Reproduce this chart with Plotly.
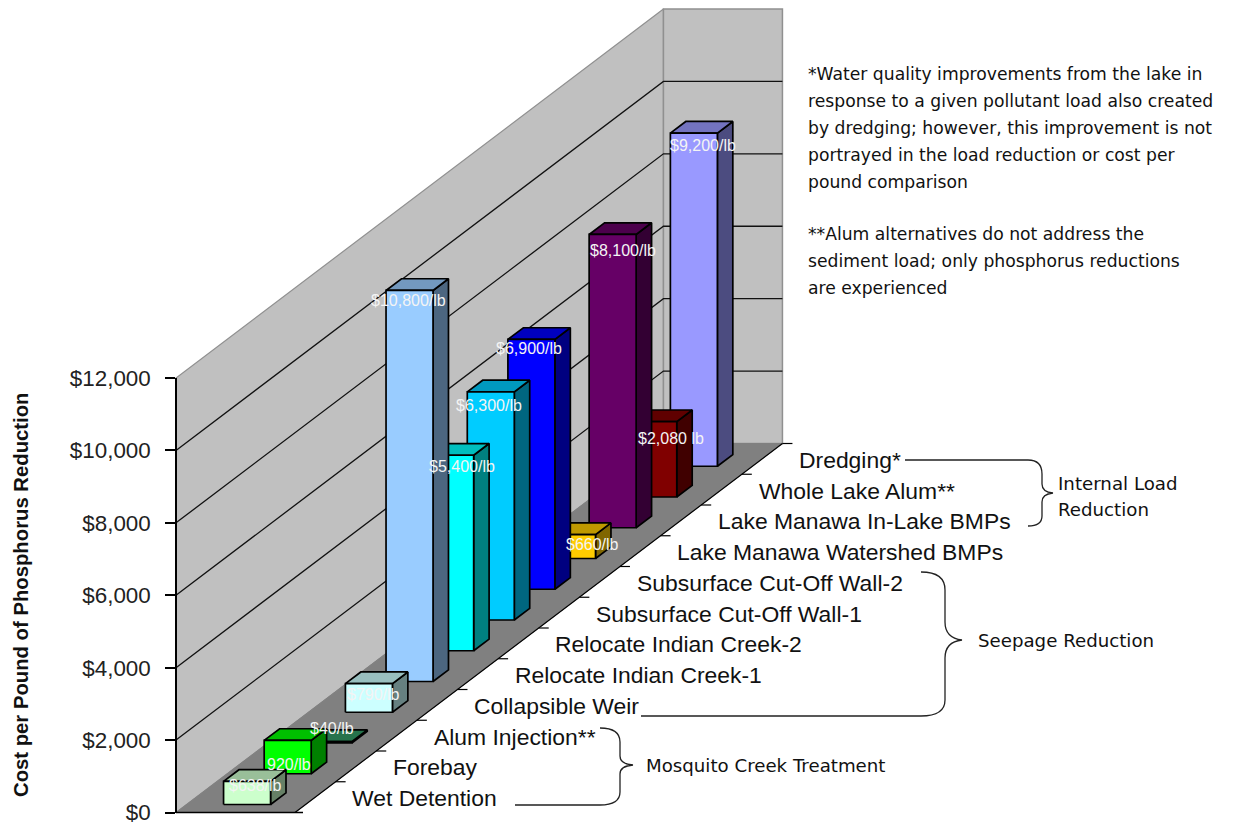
import plotly.graph_objects as go

# Cost-effectiveness of phosphorus reduction alternatives, Excel-style 3-D columns
categories = [
    "Wet Detention", "Forebay", "Alum Injection**", "Collapsible Weir",
    "Relocate Indian Creek-1", "Relocate Indian Creek-2",
    "Subsurface Cut-Off Wall-1", "Subsurface Cut-Off Wall-2",
    "Lake Manawa Watershed BMPs", "Lake Manawa In-Lake BMPs",
    "Whole Lake Alum**", "Dredging*",
]
cost_per_lb = [638, 920, 40, 790, 10800, 5400, 6300, 6900, 660, 8100, 2080, 9200]
value_labels = [
    "$638/lb", "920/lb", "$40/lb", "$790/lb", "$10,800/lb", "$5,400/lb",
    "$6,300/lb", "$6,900/lb", "$660/lb", "$8,100/lb", "$2,080 lb", "$9,200/lb",
]
bar_colors = [
    "#CCFFCC", "#00FF00", "#339966", "#CCFFFF", "#99CCFF", "#00FFFF",
    "#00CCFF", "#0000FF", "#FFCC00", "#660066", "#800000", "#9999FF",
]
value_ticks = [0, 2000, 4000, 6000, 8000, 10000, 12000]
value_tick_labels = ["$0", "$2,000", "$4,000", "$6,000", "$8,000", "$10,000", "$12,000"]

notes = [
    ("*Water quality improvements from the lake in", 74),
    ("response to a given pollutant load also created", 101),
    ("by dredging; however, this improvement is not", 128),
    ("portrayed in the load reduction or cost per", 155),
    ("pound comparison", 182),
    ("**Alum alternatives do not address the", 234),
    ("sediment load; only phosphorus reductions", 261),
    ("are experienced", 288),
]
groups = [
    ("Internal Load", 1056, 483),
    ("Reduction", 1056, 509),
    ("Seepage Reduction", 976, 640),
    ("Mosquito Creek Treatment", 644, 765),
]

# Oblique projection: u runs along the category axis, w across the floor, v up the value axis
W, H = 1240, 825
X0, Y0 = 176.0, 812.5
CAT_DX, CAT_DY = 40.62, -30.75
FLOOR_W = 119.0
VALUE_MAX = 12000
VALUE_PX = 434.5 / VALUE_MAX
N = len(categories)
BAR_U0, BAR_DU = 0.26, 0.38
BAR_W0, BAR_W1 = 37.0, 84.0


def project(u, w, v):
    return X0 + CAT_DX * u + w, Y0 + CAT_DY * u - v * VALUE_PX


def shade(color, factor):
    r, g, b = (int(color[i:i + 2], 16) for i in (1, 3, 5))
    return "#%02X%02X%02X" % (round(r * factor), round(g * factor), round(b * factor))


fig = go.Figure()


def polygon(corners, fill, line_color="#000000", line_width=1.7):
    xs, ys = zip(*(corners + corners[:1]))
    fig.add_trace(go.Scatter(
        x=xs, y=ys, mode="lines", fill="toself", fillcolor=fill,
        line=dict(color=line_color, width=line_width), hoverinfo="skip",
        showlegend=False,
    ))


def polyline(points, color="#000000", width=1.0):
    xs, ys = zip(*points)
    fig.add_trace(go.Scatter(
        x=xs, y=ys, mode="lines", line=dict(color=color, width=width),
        hoverinfo="skip", showlegend=False,
    ))


# Walls and floor
polygon([project(0, 0, 0), project(N, 0, 0), project(N, 0, VALUE_MAX), project(0, 0, VALUE_MAX)],
        "#C0C0C0", "#909090", 1.2)
polygon([project(N, 0, 0), project(N, FLOOR_W, 0), project(N, FLOOR_W, VALUE_MAX), project(N, 0, VALUE_MAX)],
        "#C0C0C0", "#909090", 1.5)
polygon([project(0, 0, 0), project(0, FLOOR_W, 0), project(N, FLOOR_W, 0), project(N, 0, 0)],
        "#808080", "#808080", 1.0)

# Gridlines bend at the corner between the two walls
for tick in value_ticks[1:-1]:
    polyline([project(0, 0, tick), project(N, 0, tick), project(N, FLOOR_W, tick)], "#111111", 1.3)

# Columns are painted from the back of the floor to the front
for i in reversed(range(N)):
    v = cost_per_lb[i]
    u0, u1 = i + BAR_U0, i + BAR_U0 + BAR_DU
    color = bar_colors[i]
    polygon([project(u0, BAR_W1, 0), project(u1, BAR_W1, 0), project(u1, BAR_W1, v), project(u0, BAR_W1, v)],
            shade(color, 0.5))
    polygon([project(u0, BAR_W0, v), project(u0, BAR_W1, v), project(u1, BAR_W1, v), project(u1, BAR_W0, v)],
            shade(color, 0.75))
    polygon([project(u0, BAR_W0, 0), project(u0, BAR_W1, 0), project(u0, BAR_W1, v), project(u0, BAR_W0, v)],
            color)

# Category axis with its tick marks
polyline([project(0, 0, 0), project(0, FLOOR_W + 8, 0)], "#000000", 1.5)
polyline([project(0, FLOOR_W, 0), project(N, FLOOR_W, 0)], "#000000", 1.2)
for k in range(1, N + 1):
    polyline([project(k, FLOOR_W, 0), project(k, FLOOR_W + 10, 0)], "#000000", 1.2)

# Hidden carrier for the real value axis
fig.add_trace(go.Scatter(x=[X0, X0], y=[0, VALUE_MAX], yaxis="y2", mode="lines",
                         line=dict(color="rgba(0,0,0,0)"), hoverinfo="skip", showlegend=False))

annotations = []


def add_text(x, y, text, size, font="Liberation Sans", color="#111111", anchor="left", angle=0):
    annotations.append(dict(
        x=x, y=y, xref="x", yref="y", text=text, showarrow=False, xanchor=anchor, yanchor="middle",
        textangle=angle, font=dict(family=font, size=size, color=color),
    ))


# Category labels follow the axis, written to the right of each tick interval
for i, name in enumerate(categories):
    x, y = project(i + 0.5, FLOOR_W, 0)
    add_text(x + 35, y + 1, name, 22.9)

# Value labels, nudged off each column's front corner
LABEL_NUDGE = [
    (32, 5), (25, 25), (27, -12), (28, 12), (22, 11), (35, 12),
    (22, 15), (21, 10), (44, 11), (34, 17), (41, 18), (33, 13),
]
for i, text in enumerate(value_labels):
    x, y = project(i + BAR_U0, BAR_W0, cost_per_lb[i])
    dx, dy = LABEL_NUDGE[i]
    add_text(x + dx, y + dy - 1, text, 16, color="#F4F4F4", anchor="center")

add_text(21, 595, "<b>Cost per Pound of Phosphorus Reduction</b>", 20.3, anchor="center", angle=-90,
         color="#111111")

for line, y in notes:
    add_text(806, y, line, 17.2, font="DejaVu Sans")
for text, x, y in groups:
    add_text(x, y, text, 18.2, font="DejaVu Sans")

BRACE_STYLE = dict(type="path", xref="x", yref="y", line=dict(color="#222222", width=1.3), layer="above")
brace_paths = [
    "M905,460 L1028,460 Q1042,460 1042,474 L1042,484 Q1042,492 1053,493 Q1042,494 1042,502 "
    "L1042,516 Q1042,526 1028,526",
    "M921,572 Q945,572 945,590 L945,622 Q945,638 962,640 Q945,642 945,658 L945,700 "
    "Q945,716 921,716 L641,716",
    "M600,728 Q620,728 620,742 L620,756 Q620,764 633,765 Q620,766 620,774 L620,792 "
    "Q620,805 600,805 L515,805",
]

fig.update_layout(
    width=W, height=H,
    margin=dict(l=0, r=0, t=0, b=0, autoexpand=False),
    paper_bgcolor="#FFFFFF", plot_bgcolor="rgba(0,0,0,0)",
    showlegend=False,
    xaxis=dict(range=[0, W], visible=False, fixedrange=True),
    yaxis=dict(range=[H, 0], visible=False, fixedrange=True),
    yaxis2=dict(
        domain=[(H - Y0) / H, (H - Y0 + VALUE_MAX * VALUE_PX) / H],
        range=[0, VALUE_MAX], anchor="free", position=X0 / W, side="left",
        tickvals=value_ticks, ticktext=value_tick_labels,
        ticks="outside", ticklen=10, tickwidth=1.5, tickcolor="#000000",
        showline=True, linecolor="#000000", linewidth=1.5, showgrid=False, zeroline=False,
        ticklabelstandoff=10, ticklabeloverflow="allow",
        tickfont=dict(family="Liberation Sans", size=22.4, color="#222222"),
        fixedrange=True,
    ),
    annotations=annotations,
    shapes=[dict(path=p, **BRACE_STYLE) for p in brace_paths],
)

fig.write_html("out.html", config=dict(displayModeBar=False))
